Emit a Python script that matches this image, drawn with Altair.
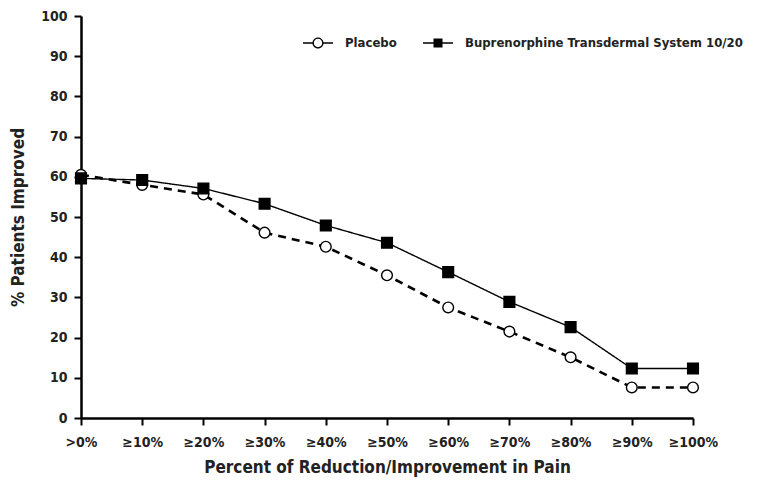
import altair as alt
import pandas as pd

categories = [">0%", "≥10%", "≥20%", "≥30%", "≥40%", "≥50%", "≥60%", "≥70%", "≥80%", "≥90%", "≥100%"]
series_names = ["Placebo", "Buprenorphine Transdermal System 10/20"]
placebo = [60.5, 58.0, 55.6, 46.1, 42.6, 35.5, 27.5, 21.5, 15.1, 7.6, 7.6]
buprenorphine = [59.6, 59.2, 57.1, 53.3, 47.9, 43.6, 36.3, 28.9, 22.6, 12.3, 12.3]

rows = []
for c, p, b in zip(categories, placebo, buprenorphine):
    rows.append({"category": c, "series": series_names[0], "value": p})
    rows.append({"category": c, "series": series_names[1], "value": b})
df = pd.DataFrame(rows)

FONT = "DejaVu Sans Condensed"

x = alt.X("category:O", sort=categories,
          scale=alt.Scale(type="point", padding=0),
          axis=alt.Axis(title="Percent of Reduction/Improvement in Pain", labelAngle=0,
                        labelPadding=10, titlePadding=10))
y = alt.Y("value:Q", scale=alt.Scale(domain=[0, 100], nice=False, zero=True),
          axis=alt.Axis(values=list(range(0, 101, 10)), title="% Patients Improved",
                        grid=False, labelPadding=7, titlePadding=13))

base = alt.Chart(df)

lines = base.mark_line(color="black").encode(
    x=x, y=y,
    strokeDash=alt.StrokeDash("series:N", scale=alt.Scale(domain=series_names, range=[[8, 6], [1, 0]]), legend=None),
    strokeWidth=alt.StrokeWidth("series:N", scale=alt.Scale(domain=series_names, range=[2.6, 1.4]), legend=None),
)

points = base.mark_point(filled=True, size=115, stroke="black", strokeWidth=1.4, opacity=1).encode(
    x=x, y=y,
    shape=alt.Shape("series:N", scale=alt.Scale(domain=series_names, range=["circle", "square"]), legend=None),
    fill=alt.Fill("series:N", scale=alt.Scale(domain=series_names, range=["white", "black"]), legend=None),
)

# legend glyphs: line with open circle / line with filled square (filled outlines)
path_circle = ("M-1,-0.05H-0.36V0.05H-1Z"
               "M0.36,-0.05H1V0.05H0.36Z"
               "M0.37,0A0.37,0.37 0 1,1 -0.37,0A0.37,0.37 0 1,1 0.37,0Z"
               "M0.28,0A0.28,0.28 0 1,0 -0.28,0A0.28,0.28 0 1,0 0.28,0Z")
path_square = "M-1,-0.05H1V0.05H-1ZM-0.3,-0.3H0.3V0.3H-0.3Z"

leg = alt.Legend(title=None, orient="none", legendX=222, legendY=12, direction="horizontal",
                 symbolSize=900, symbolOpacity=1, symbolStrokeWidth=0, symbolFillColor="black",
                 labelFont=FONT, labelFontSize=13, labelFontWeight="bold", labelColor="#222",
                 labelOffset=12, columnPadding=26, labelLimit=400)

legend_layer = base.transform_filter("false").mark_point(filled=True, color="black", strokeWidth=0).encode(
    x=x, y=y,
    shape=alt.Shape("series:N", scale=alt.Scale(domain=series_names, range=[path_circle, path_square]), legend=leg),
)

chart = alt.layer(lines, points, legend_layer).resolve_scale(
    shape="independent", fill="independent"
).properties(
    width=612, height=402,
    autosize=alt.AutoSizeParams(type="none"),
    padding={"left": 73, "top": 8, "right": 56, "bottom": 62},
    background="white",
).configure_view(stroke=None).configure_axis(
    labelFont=FONT, titleFont=FONT, labelFontSize=14, titleFontSize=17,
    labelFontWeight="bold", titleFontWeight="bold",
    labelColor="#222", titleColor="#222",
    domainColor="black", domainWidth=2.5, tickColor="black", tickWidth=2, tickSize=7,
)

chart.save("out.html", embed_options={"renderer": "svg", "actions": False})
